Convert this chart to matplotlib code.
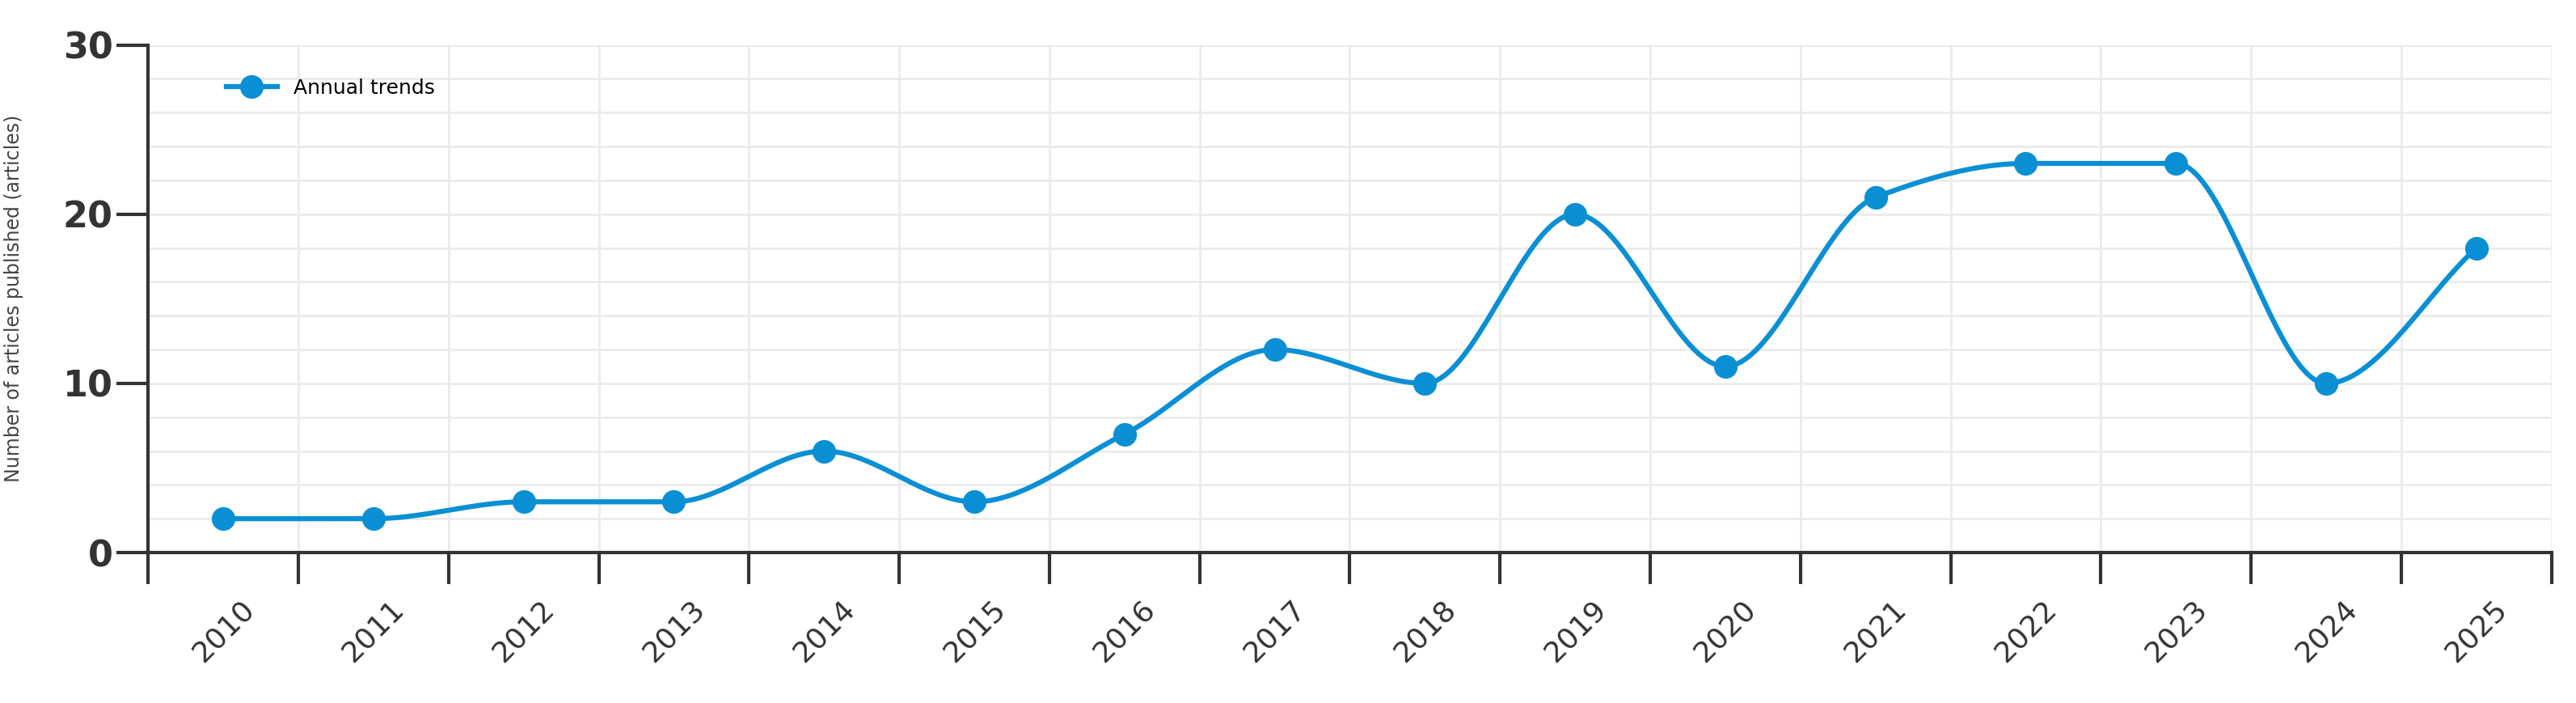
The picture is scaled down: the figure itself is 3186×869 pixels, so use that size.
import numpy as np
import matplotlib.pyplot as plt

years = ["2010", "2011", "2012", "2013", "2014", "2015", "2016", "2017",
         "2018", "2019", "2020", "2021", "2022", "2023", "2024", "2025"]
articles = [2, 2, 3, 3, 6, 3, 7, 12, 10, 20, 11, 21, 23, 23, 10, 18]


def monotone_curve(x, y, n=40):
    # Fritsch-Carlson monotone cubic interpolation
    x = np.asarray(x, float)
    y = np.asarray(y, float)
    h = np.diff(x)
    d = np.diff(y) / h
    m = np.zeros_like(y)
    m[0], m[-1] = d[0], d[-1]
    for i in range(1, len(y) - 1):
        if d[i - 1] * d[i] > 0:
            m[i] = 2 / (1 / d[i - 1] + 1 / d[i])
    xs, ys = [], []
    for i in range(len(h)):
        t = np.linspace(0, 1, n)
        h00 = 2 * t**3 - 3 * t**2 + 1
        h10 = t**3 - 2 * t**2 + t
        h01 = -2 * t**3 + 3 * t**2
        h11 = t**3 - t**2
        xs.append(x[i] + t * h[i])
        ys.append(h00 * y[i] + h10 * h[i] * m[i] + h01 * y[i + 1] + h11 * h[i] * m[i + 1])
    return np.concatenate(xs), np.concatenate(ys)


color = "#0a8fd4"
x = np.arange(len(years))

fig = plt.figure(figsize=(31.86, 8.69), dpi=100)
ax = fig.add_axes([0.0575, 0.214, 0.933, 0.722])

cx, cy = monotone_curve(x, articles)
ax.plot(cx, cy, color=color, lw=4.5, zorder=3)
ax.plot(x, articles, "o", color=color, ms=20, zorder=4)
ax.plot([], [], "-o", color=color, lw=4.5, ms=20, label="Annual trends")

ax.set_xlim(-0.5, len(years) - 0.5)
ax.set_ylim(0, 30)
ax.set_yticks([0, 10, 20, 30])
ax.set_yticks(np.arange(0, 31, 2), minor=True)
ax.set_xticks(np.arange(len(years)))
ax.set_xticklabels(years, rotation=45, fontsize=26, color="#333333")
ax.set_xticks(np.arange(-0.5, len(years), 1), minor=True)
ax.tick_params(axis="x", which="major", length=0, pad=38)
ax.tick_params(axis="x", which="minor", length=28, width=3, color="#333333")
ax.tick_params(axis="y", which="major", length=28, width=3, labelsize=32, color="#333333")
ax.tick_params(axis="y", which="minor", length=0)
for lab in ax.get_yticklabels():
    lab.set_fontweight("bold")
    lab.set_color("#333333")
ax.grid(True, which="minor", color="#ebebeb", lw=2)
ax.grid(True, which="major", axis="y", color="#ebebeb", lw=2)
ax.set_axisbelow(True)

for s in ["top", "right"]:
    ax.spines[s].set_visible(False)
for s in ["left", "bottom"]:
    ax.spines[s].set_linewidth(3)
    ax.spines[s].set_color("#333333")

ax.set_ylabel("Number of articles published (articles)", fontsize=17, color="#444444", labelpad=35)
ax.legend(loc="upper left", bbox_to_anchor=(0.025, 0.97), frameon=False, fontsize=18, handlelength=2.5)

fig.savefig("out.png", dpi=100)
